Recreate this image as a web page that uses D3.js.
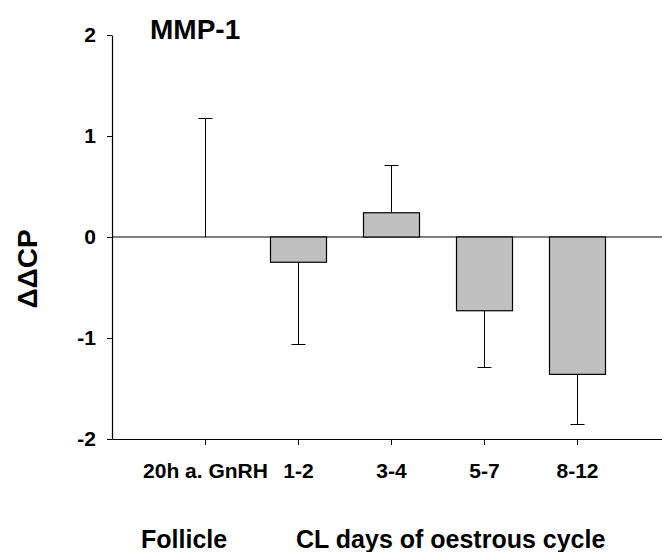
<!DOCTYPE html>
<html>
<head>
<meta charset="utf-8">
<script src="https://cdn.jsdelivr.net/npm/d3@7"></script>
<style>
  html, body { margin: 0; padding: 0; background: #fff; }
  svg { display: block; }
  text { font-family: "Liberation Sans", Arial, sans-serif; font-weight: bold; fill: #000; }
</style>
</head>
<body>
<svg id="chart" width="662" height="552"></svg>
<script>
// Data
const categories = ["20h a. GnRH", "1-2", "3-4", "5-7", "8-12"];
const values = [0, -0.25, 0.24, -0.73, -1.36];
const errorEnds = [1.18, -1.06, 0.71, -1.29, -1.85];
const yTicks = [-2, -1, 0, 1, 2];
const title = "MMP-1";
const yLabel = "ΔΔCP";
const groupLabels = [
  { text: "Follicle", x: 141 },
  { text: "CL days of oestrous cycle", x: 296 }
];

const svg = d3.select("#chart");
const W = 662, H = 552;

const y = d3.scaleLinear().domain([-2, 2]).range([439, 35]);
const x = d3.scalePoint().domain(categories).range([112, 670]).padding(1);
const barW = 56, capW = 14;

// Y axis
const yAxis = svg.append("g")
  .attr("transform", "translate(112,0)")
  .call(d3.axisLeft(y).tickValues(yTicks).tickSize(5).tickSizeOuter(0).tickFormat(d => String(d)));
yAxis.select(".domain").attr("stroke", "#000").attr("stroke-width", 1.2);
yAxis.selectAll(".tick line").attr("stroke", "#000");
yAxis.selectAll(".tick text")
  .attr("x", -16)
  .style("font-size", "21px")
  .style("font-family", "'Liberation Sans', Arial, sans-serif")
  .style("font-weight", "bold")
  .attr("fill", "#000");

// X axis at bottom
const xAxis = svg.append("g")
  .attr("transform", "translate(0,439)")
  .call(d3.axisBottom(x).tickSize(6).tickSizeOuter(0));
xAxis.select(".domain").attr("stroke", "#000").attr("stroke-width", 1.2);
xAxis.selectAll(".tick line").attr("stroke", "#000");
xAxis.selectAll(".tick text")
  .attr("y", 24)
  .attr("dy", "0.71em")
  .style("font-size", "21px")
  .style("font-family", "'Liberation Sans', Arial, sans-serif")
  .style("font-weight", "bold")
  .attr("fill", "#000");

// Zero line
svg.append("line")
  .attr("x1", 112).attr("x2", W)
  .attr("y1", y(0)).attr("y2", y(0))
  .attr("stroke", "#000").attr("stroke-width", 1.2);

// Error bars
const eb = svg.append("g").attr("stroke", "#000").attr("stroke-width", 1);
categories.forEach((c, i) => {
  const cx = Math.round(x(c)) + 0.5;
  eb.append("line")
    .attr("x1", cx).attr("x2", cx)
    .attr("y1", y(values[i])).attr("y2", y(errorEnds[i]));
  eb.append("line")
    .attr("x1", cx - capW / 2).attr("x2", cx + capW / 2)
    .attr("y1", Math.round(y(errorEnds[i])) + 0.5).attr("y2", Math.round(y(errorEnds[i])) + 0.5);
});

// Bars
svg.append("g").selectAll("rect")
  .data(categories.map((c, i) => ({ c, v: values[i] })))
  .join("rect")
  .attr("x", d => Math.round(x(d.c) - barW / 2) + 0.5)
  .attr("width", barW)
  .attr("y", d => y(Math.max(0, d.v)))
  .attr("height", d => Math.abs(y(d.v) - y(0)))
  .attr("fill", "#c0c0c0")
  .attr("stroke", "#000")
  .attr("stroke-width", 1.2);

// Title
svg.append("text")
  .attr("x", 150).attr("y", 38.5)
  .style("font-size", "28px")
  .text(title);

// Y label
svg.append("text")
  .attr("transform", "translate(37,269) rotate(-90)")
  .attr("text-anchor", "middle")
  .style("font-size", "28px")
  .text(yLabel);

// Group labels
svg.append("g").selectAll("text")
  .data(groupLabels)
  .join("text")
  .attr("x", d => d.x).attr("y", 548)
  .style("font-size", "25px")
  .text(d => d.text);
</script>
</body>
</html>
